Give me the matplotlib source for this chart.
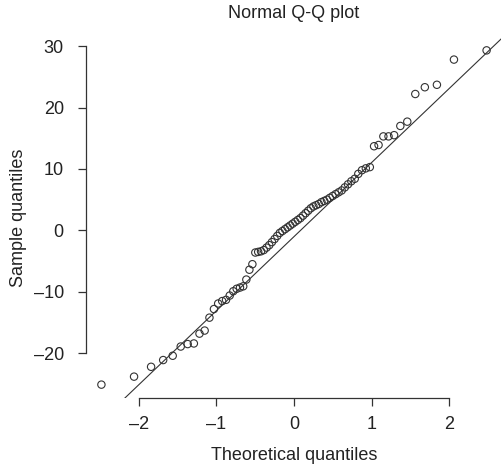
import numpy as np
import matplotlib
matplotlib.use("Agg")
import matplotlib.pyplot as plt
from statistics import NormalDist

# sorted sample values (n = 76)
sample_low = [-25.1, -23.8, -22.2, -21.1, -20.4, -18.9, -18.5, -18.4, -16.8, -16.3,
              -14.2, -12.8, -11.9, -11.5, -11.3, -10.6, -9.9, -9.5, -9.3, -9.1,
              -8.0, -6.4, -5.5]
sample_mid = [-3.6, -3.5, -3.4, -3.2, -2.8, -2.4, -1.9, -1.4, -0.9, -0.4,
              -0.1, 0.2, 0.5, 0.8, 1.1, 1.4, 1.7, 2.0, 2.4, 2.8,
              3.2, 3.6, 3.9, 4.1, 4.3, 4.6, 4.8, 5.0, 5.3, 5.6,
              5.9, 6.2, 6.5, 7.0, 7.5, 8.0, 8.4, 9.2, 9.8, 10.1, 10.3]
sample_high = [13.7, 13.9, 15.3, 15.3, 15.5, 17.0, 17.7, 22.2, 23.3, 23.7, 27.8, 29.3]

x_ticks = [-2, -1, 0, 1, 2]
y_ticks = [-20, -10, 0, 10, 20, 30]
title = "Normal Q-Q plot"
x_label = "Theoretical quantiles"
y_label = "Sample quantiles"

sample = np.sort(np.array(sample_low + sample_mid + sample_high))
n = len(sample)
nd = NormalDist()
# ppoints like R's qqnorm
a = 3 / 8 if n <= 10 else 0.5
theo = np.array([nd.inv_cdf((i - a) / (n + 1 - 2 * a)) for i in range(1, n + 1)])

# qqline through the quartiles
q1, q3 = np.quantile(sample, [0.25, 0.75])
t1, t3 = nd.inv_cdf(0.25), nd.inv_cdf(0.75)
slope = (q3 - q1) / (t3 - t1)
icpt = q1 - slope * t1

plt.rcParams['font.family'] = ['Liberation Sans', 'DejaVu Sans']
txt = '#222222'
fs = 13

W, H = 501, 467
fig = plt.figure(figsize=(W / 100, H / 100), dpi=100)
ax = fig.add_axes([86 / W, (H - 398) / H, (502 - 86) / W, (398 - 37) / H])

ax.scatter(theo, sample, s=28, facecolors='none', edgecolors='#333333', linewidths=0.8, zorder=3)

xr = theo.max() - theo.min()
yr = sample.max() - sample.min()
xlim = (theo.min() - 0.04 * xr, theo.max() + 0.04 * xr)
ylim = (sample.min() - 0.04 * yr, sample.max() + 0.04 * yr)
xs = np.array(xlim)
ax.plot(xs, icpt + slope * xs, color='#333333', lw=0.8, zorder=2)
ax.set_xlim(xlim)
ax.set_ylim(ylim)

for s in ['top', 'right']:
    ax.spines[s].set_visible(False)
ax.spines['left'].set_bounds(y_ticks[0], y_ticks[-1])
ax.spines['bottom'].set_bounds(x_ticks[0], x_ticks[-1])
for s in ['left', 'bottom']:
    ax.spines[s].set_color('#333333')
    ax.spines[s].set_linewidth(0.9)

ax.set_xticks(x_ticks)
ax.set_yticks(y_ticks)
ax.set_xticklabels([str(v).replace('-', '\u2013') for v in x_ticks])
ax.set_yticklabels([str(v).replace('-', '\u2013') for v in y_ticks])
ax.tick_params(direction='out', length=6, width=0.9, color='#333333',
               labelsize=fs, labelcolor=txt)
ax.tick_params(axis='x', pad=7)
ax.tick_params(axis='y', pad=10)

ax.set_xlabel(x_label, fontsize=fs, color=txt, labelpad=10)
ax.set_ylabel(y_label, fontsize=fs, color=txt, labelpad=5)
fig.text(294 / W, 1 - 13 / H, title, ha='center', va='center', fontsize=fs, color=txt)

fig.savefig('out.png', dpi=100)
